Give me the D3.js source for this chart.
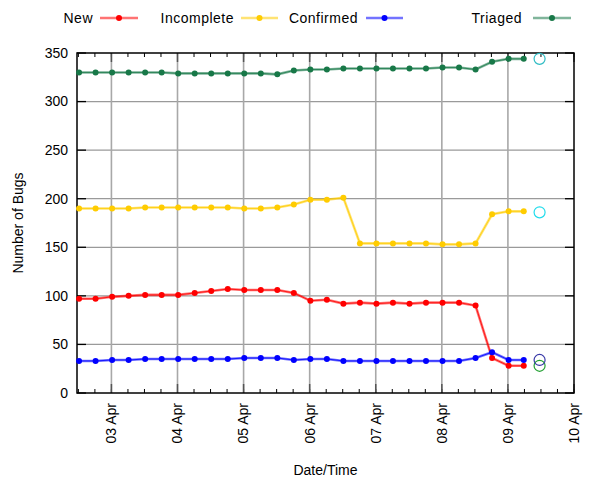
<!DOCTYPE html>
<html>
<head>
<meta charset="utf-8">
<script src="https://cdn.jsdelivr.net/npm/d3@7"></script>
<style>
  html, body { margin: 0; padding: 0; background: #fff; }
  svg { display: block; font-family: "Liberation Sans", Arial, sans-serif; }
</style>
</head>
<body>
<svg id="chart" width="600" height="480"></svg>
<script>
// ---- Data ----
const times = [
  "2024-04-02 12:15", "2024-04-02 18:15", "2024-04-03 00:15", "2024-04-03 06:15",
  "2024-04-03 12:15", "2024-04-03 18:15", "2024-04-04 00:15", "2024-04-04 06:15",
  "2024-04-04 12:15", "2024-04-04 18:15", "2024-04-05 00:15", "2024-04-05 06:15",
  "2024-04-05 12:15", "2024-04-05 18:15", "2024-04-06 00:15", "2024-04-06 06:15",
  "2024-04-06 12:15", "2024-04-06 18:15", "2024-04-07 00:15", "2024-04-07 06:15",
  "2024-04-07 12:15", "2024-04-07 18:15", "2024-04-08 00:15", "2024-04-08 06:15",
  "2024-04-08 12:15", "2024-04-08 18:15", "2024-04-09 00:15", "2024-04-09 05:45"
];
const newBugs = [97,97,99,100,101,101,101,103,105,107,106,106,106,103,95,96,92,93,92,93,92,93,93,93,90,36,28,28];
const incomplete = [190,190,190,190,191,191,191,191,191,191,190,190,191,194,199,199,201,154,154,154,154,154,153,153,154,184,187,187];
const confirmed = [33,33,34,34,35,35,35,35,35,35,36,36,36,34,35,35,33,33,33,33,33,33,33,33,36,42,34,34];
const triaged = [330,330,330,330,330,330,329,329,329,329,329,329,328,332,333,333,334,334,334,334,334,334,335,335,333,341,344,344];

const currentTime = "2024-04-09 11:30";
const currentValues = { New: 28, Incomplete: 186, Confirmed: 34, Triaged: 344 };

const seriesNames = ["New", "Incomplete", "Confirmed", "Triaged"];
const seriesColors = ["#ff0000", "#ffcc00", "#0000ff", "#187848"];
const currentColors = ["#22a032", "#22dcec", "#3a3aa8", "#30bcc4"];
const yTicks = [0, 50, 100, 150, 200, 250, 300, 350];
const xDomain = ["2024-04-02 11:30", "2024-04-10 00:00"];

// ---- Layout ----
const svg = d3.select("#chart");
const plot = { left: 77, right: 574, top: 53, bottom: 393 };
const parse = d3.utcParse("%Y-%m-%d %H:%M");

const x = d3.scaleUtc().domain(xDomain.map(parse)).range([plot.left, plot.right]);
const y = d3.scaleLinear().domain([0, 350]).range([plot.bottom, plot.top]);

const seriesValues = [newBugs, incomplete, confirmed, triaged];
const dates = times.map(parse);

// Grid lines
const dayTicks = d3.utcDay.range(d3.utcDay.ceil(x.domain()[0]), d3.utcDay.offset(x.domain()[1], 1));
const grid = svg.append("g");
grid.selectAll("line.h").data(yTicks.filter(v => v > 0 && v < 350)).join("line")
  .attr("x1", plot.left).attr("x2", plot.right)
  .attr("y1", d => y(d)).attr("y2", d => y(d))
  .attr("stroke", "#9a9a9a").attr("stroke-width", 1.3);
grid.selectAll("line.v").data(dayTicks.filter(d => x(d) < plot.right - 1)).join("line")
  .attr("x1", d => x(d)).attr("x2", d => x(d))
  .attr("y1", plot.top).attr("y2", plot.bottom)
  .attr("stroke", "#a8a8a8").attr("stroke-width", 1.6);

// Minor & major ticks (inside, top & bottom)
const minorTicks = d3.utcHour.every(6).range(x.domain()[0], d3.utcHour.offset(x.domain()[1], 1));
const ticks = svg.append("g");
ticks.selectAll("line.mb").data(minorTicks).join("line")
  .attr("x1", d => x(d)).attr("x2", d => x(d))
  .attr("y1", plot.bottom).attr("y2", plot.bottom - 4)
  .attr("stroke", "#000").attr("stroke-width", 1);
ticks.selectAll("line.mt").data(minorTicks).join("line")
  .attr("x1", d => x(d)).attr("x2", d => x(d))
  .attr("y1", plot.top).attr("y2", plot.top + 4)
  .attr("stroke", "#000").attr("stroke-width", 1);
ticks.selectAll("line.Mb").data(dayTicks).join("line")
  .attr("x1", d => x(d)).attr("x2", d => x(d))
  .attr("y1", plot.bottom).attr("y2", plot.bottom - 9)
  .attr("stroke", "#555").attr("stroke-width", 1.5);
ticks.selectAll("line.Mt").data(dayTicks).join("line")
  .attr("x1", d => x(d)).attr("x2", d => x(d))
  .attr("y1", plot.top).attr("y2", plot.top + 9)
  .attr("stroke", "#555").attr("stroke-width", 1.5);
ticks.selectAll("line.yl").data(yTicks).join("line")
  .attr("x1", plot.left).attr("x2", plot.left + 9)
  .attr("y1", d => y(d)).attr("y2", d => y(d))
  .attr("stroke", "#000").attr("stroke-width", 1.3);
ticks.selectAll("line.yr").data(yTicks).join("line")
  .attr("x1", plot.right).attr("x2", plot.right - 9)
  .attr("y1", d => y(d)).attr("y2", d => y(d))
  .attr("stroke", "#000").attr("stroke-width", 1.3);

// Frame
svg.append("rect")
  .attr("x", plot.left).attr("y", plot.top)
  .attr("width", plot.right - plot.left).attr("height", plot.bottom - plot.top)
  .attr("fill", "none").attr("stroke", "#000").attr("stroke-width", 1.5);

// Y tick labels
svg.append("g").selectAll("text").data(yTicks).join("text")
  .attr("x", plot.left - 9).attr("y", d => y(d)).attr("dy", "0.35em")
  .attr("text-anchor", "end").attr("font-size", 14).attr("fill", "#000")
  .text(d => d);

// X tick labels (rotated)
const fmt = d3.utcFormat("%d %b");
svg.append("g").selectAll("text").data(dayTicks).join("text")
  .attr("transform", d => `translate(${x(d)},${plot.bottom + 10}) rotate(-90)`)
  .attr("dy", "0.35em").attr("text-anchor", "end")
  .attr("font-size", 14).attr("fill", "#000")
  .text(d => fmt(d));

// Axis titles
svg.append("text").attr("transform", `translate(18,${(plot.top + plot.bottom) / 2}) rotate(-90)`)
  .attr("text-anchor", "middle").attr("dy", "0.35em").attr("font-size", 14).text("Number of Bugs");
svg.append("text").attr("x", (plot.left + plot.right) / 2).attr("y", 470)
  .attr("text-anchor", "middle").attr("dy", "0.35em").attr("font-size", 14).text("Date/Time");

// Series
const line = d3.line().x((d, i) => x(dates[i])).y(d => y(d));
seriesValues.forEach((vals, k) => {
  const g = svg.append("g");
  g.append("path").datum(vals).attr("d", line)
    .attr("fill", "none").attr("stroke", seriesColors[k])
    .attr("stroke-width", 2.6).attr("stroke-opacity", 0.55);
  g.append("path").datum(vals).attr("d", line)
    .attr("fill", "none").attr("stroke", seriesColors[k])
    .attr("stroke-width", 0.8);
  g.selectAll("circle").data(vals).join("circle")
    .attr("cx", (d, i) => x(dates[i])).attr("cy", d => y(d))
    .attr("r", 3).attr("fill", seriesColors[k]);
  g.append("circle")
    .attr("cx", x(parse(currentTime))).attr("cy", y(currentValues[seriesNames[k]]))
    .attr("r", 5.5).attr("fill", "none").attr("stroke", currentColors[k]).attr("stroke-width", 1.2);
});

// Legend
const legendItems = [
  { textEnd: 93, l1: 100, l2: 138 },
  { textEnd: 234, l1: 241, l2: 278 },
  { textEnd: 358, l1: 366, l2: 403 },
  { textEnd: 522, l1: 533, l2: 571 }
];
const legendY = 18;
const lg = svg.append("g");
seriesNames.forEach((name, k) => {
  const it = legendItems[k];
  lg.append("text").attr("x", it.textEnd).attr("y", legendY).attr("dy", "0.35em")
    .attr("text-anchor", "end").attr("font-size", 14).attr("letter-spacing", 0.5).text(name);
  lg.append("line").attr("x1", it.l1).attr("x2", it.l2).attr("y1", legendY).attr("y2", legendY)
    .attr("stroke", seriesColors[k]).attr("stroke-width", 2.6).attr("stroke-opacity", 0.55);
  lg.append("circle").attr("cx", (it.l1 + it.l2) / 2).attr("cy", legendY).attr("r", 3)
    .attr("fill", seriesColors[k]);
});
</script>
</body>
</html>
